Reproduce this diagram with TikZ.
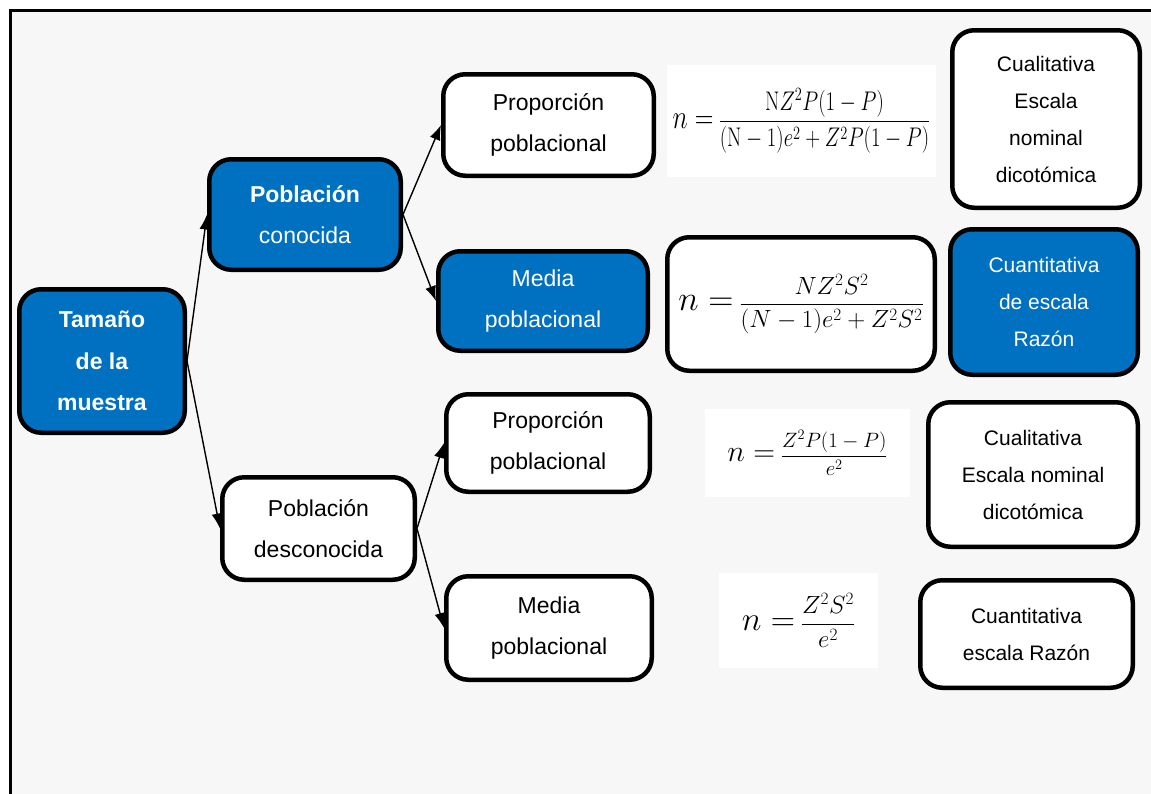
\documentclass[tikz,border=0pt]{standalone}
\usepackage[no-math]{fontspec}
\setmainfont{Liberation Sans}
\usepackage{amsmath}
\usepackage{graphicx}
\usetikzlibrary{arrows.meta}
\definecolor{boxblue}{HTML}{0070C0}
\definecolor{paper}{HTML}{F7F7F7}
\begin{document}
\begin{tikzpicture}[x=1pt,y=-1pt,
  box/.style={draw=black, line width=4.5pt, rounded corners=22pt, fill=white,
    align=center, inner sep=0pt, text=black,
    font=\fontsize{23}{41.5}\selectfont},
  bluebox/.style={box, fill=boxblue, text=white},
  sidebox/.style={box, font=\fontsize{21}{37}\selectfont},
  bluesidebox/.style={sidebox, fill=boxblue, text=white},
  formula/.style={fill=white, inner sep=0pt, font=\fontsize{21}{25}\selectfont},
  formulabox/.style={box, font=\fontsize{24}{28}\selectfont},
  conn/.style={-{Latex[length=15pt,width=11pt]}, line width=1.4pt, draw=black}]
\useasboundingbox (0,0) rectangle (1151,793);
% page frame
\fill[white] (0,0) rectangle (1151,793);
\fill[paper] (10,10) rectangle (1160,800);
\draw[line width=3pt] (10,800) -- (10,10) -- (1160,10);

% tree of nodes
\node[bluebox, minimum width=165.5pt, minimum height=143.5pt] (tam) at (102,361)
  {\textbf{Tamaño}\\\textbf{de la}\\\textbf{muestra}};
\node[bluebox, minimum width=191.5pt, minimum height=110.5pt] (pc) at (305,214.5)
  {\textbf{Población}\\conocida};
\node[box, minimum width=192.5pt, minimum height=102.5pt] (pd) at (318.5,528.5)
  {Población\\desconocida};
\node[box, minimum width=210.5pt, minimum height=101.5pt] (pp1) at (548.5,125)
  {Proporción\\poblacional};
\node[bluebox, minimum width=209.5pt, minimum height=99.5pt] (mp1) at (543,301)
  {Media\\poblacional};
\node[box, minimum width=203.5pt, minimum height=97.5pt] (pp2) at (548,443)
  {Proporción\\poblacional};
\node[box, minimum width=205.5pt, minimum height=103.5pt] (mp2) at (549,628)
  {Media\\poblacional};

% formulas
\node[formula, minimum width=269pt, minimum height=112pt] (f1) at (801.5,121)
  {\scalebox{1}[1.3]{\scalebox{1.25}{$n=$}\hspace{5pt}$\dfrac{\mathrm{N}Z^2P(1-P)}{(\mathrm{N}-1)e^2+Z^2P(1-P)}$}};
\node[formulabox, minimum width=267.5pt, minimum height=133.5pt] (f2) at (801,304)
  {\scalebox{1.4}{$n=$}\hspace{6pt}$\dfrac{NZ^2S^2}{(N-1)e^2+Z^2S^2}$};
\node[formula, minimum width=205pt, minimum height=88pt] (f3) at (807.5,453)
  {\scalebox{1.45}{$n=$}\hspace{6pt}$\dfrac{Z^2P(1-P)}{e^2}$};
\node[formula, minimum width=159pt, minimum height=95pt, font=\fontsize{23}{27}\selectfont] (f4) at (798.5,620.5)
  {\scalebox{1.35}{$n=$}\hspace{6pt}$\dfrac{Z^2S^2}{e^2}$};

% variable types
\node[sidebox, minimum width=187.5pt, minimum height=177.5pt] (r1) at (1046,119)
  {Cualitativa\\Escala\\nominal\\dicotómica};
\node[bluesidebox, minimum width=187.5pt, minimum height=145.5pt] (r2) at (1044,302)
  {Cuantitativa\\de escala\\Razón};
\node[sidebox, minimum width=209.5pt, minimum height=144.5pt] (r3) at (1033,474.5)
  {Cualitativa\\Escala nominal\\dicotómica};
\node[sidebox, minimum width=212.5pt, minimum height=107.5pt] (r4) at (1026.5,634)
  {Cuantitativa\\escala Razón};

% connectors
\draw[conn] (tam.east) -- (pc.west);
\draw[conn] (tam.east) -- (pd.west);
\draw[conn] (pc.east) -- (pp1.west);
\draw[conn] (pc.east) -- (mp1.west);
\draw[conn] (pd.east) -- (pp2.west);
\draw[conn] (pd.east) -- (mp2.west);
\end{tikzpicture}
\end{document}
